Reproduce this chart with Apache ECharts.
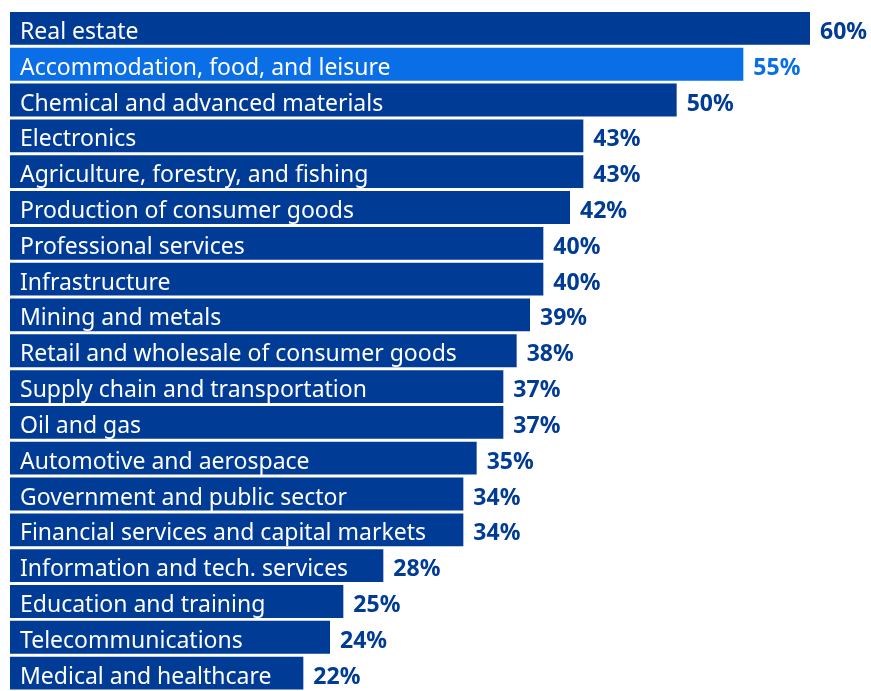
<!DOCTYPE html>
<html>
<head>
<meta charset="utf-8">
<script src="https://cdn.jsdelivr.net/npm/echarts@6/dist/echarts.min.js"></script>
<style>
  html, body { margin: 0; padding: 0; background: #ffffff; }
  #chart { width: 871px; height: 691px; }
</style>
</head>
<body>
<div id="chart"></div>
<script>
const categories = [
  'Real estate',
  'Accommodation, food, and leisure',
  'Chemical and advanced materials',
  'Electronics',
  'Agriculture, forestry, and fishing',
  'Production of consumer goods',
  'Professional services',
  'Infrastructure',
  'Mining and metals',
  'Retail and wholesale of consumer goods',
  'Supply chain and transportation',
  'Oil and gas',
  'Automotive and aerospace',
  'Government and public sector',
  'Financial services and capital markets',
  'Information and tech. services',
  'Education and training',
  'Telecommunications',
  'Medical and healthcare'
];
const shares = [60, 55, 50, 43, 43, 42, 40, 40, 39, 38, 37, 37, 35, 34, 34, 28, 25, 24, 22];
const highlighted = ['Accommodation, food, and leisure'];

const NAVY = '#003b95';
const BRIGHT = '#0a6ee6';
const FONT = '"Noto Sans"';

const chart = echarts.init(document.getElementById('chart'), null, { renderer: 'canvas' });

const barData = shares.map((v, i) => {
  const c = highlighted.includes(categories[i]) ? BRIGHT : NAVY;
  return { value: v, itemStyle: { color: c }, label: { color: c } };
});

chart.setOption({
  animation: false,
  grid: { left: 10, top: 10.5, width: 800, height: 684, containLabel: false },
  xAxis: { type: 'value', min: 0, max: 60, show: false },
  yAxis: {
    type: 'category',
    data: categories,
    inverse: true,
    z: 10,
    axisLine: { show: false },
    axisTick: { show: false },
    splitLine: { show: false },
    axisLabel: {
      inside: true,
      margin: 10,
      formatter: (name) => '{t|' + name + '}',
      rich: {
        t: {
          color: '#ffffff',
          fontFamily: FONT,
          fontSize: 23,
          padding: [8, 0, 0, 0]
        }
      }
    }
  },
  series: [{
    type: 'bar',
    data: barData,
    barCategoryGap: '8.3%',
    label: {
      show: true,
      position: 'right',
      distance: 10,
      offset: [0, 4],
      formatter: '{c}%',
      fontFamily: FONT,
      fontWeight: 'bold',
      fontSize: 23
    }
  }]
});
</script>
</body>
</html>
